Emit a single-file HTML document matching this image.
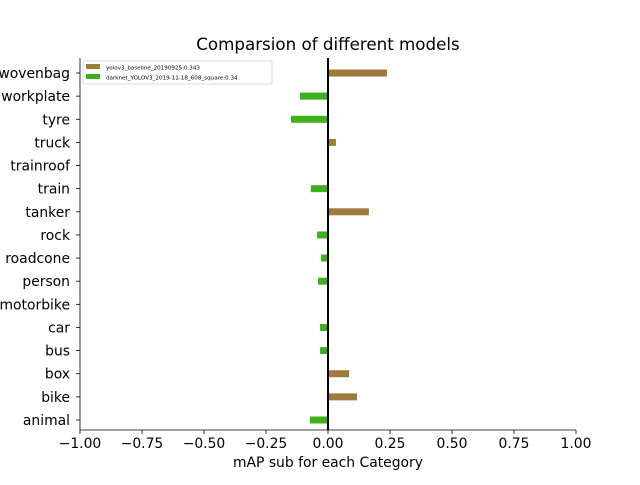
<!DOCTYPE html>
<html><head><meta charset="utf-8"><style>
body{margin:0;background:#fff}
svg text{font-family:"DejaVu Sans","Liberation Sans",sans-serif}
</style></head><body>
<svg id="c" width="640" height="480" xmlns="http://www.w3.org/2000/svg"></svg>
<script>
const categories=["animal","bike","box","bus","car","motorbike","person","roadcone","rock","tanker","train","trainroof","truck","tyre","workplate","wovenbag"];
const values=[-0.073,0.117,0.085,-0.032,-0.032,0,-0.04,-0.028,-0.044,0.165,-0.069,0,0.032,-0.149,-0.113,0.238];
const xTicks=[-1,-0.75,-0.5,-0.25,0,0.25,0.5,0.75,1];
const xTickLabels=["\u22121.00","\u22120.75","\u22120.50","\u22120.25","0.00","0.25","0.50","0.75","1.00"];
const NS="http://www.w3.org/2000/svg";
const svg=document.getElementById('c');
const X=v=>328+v*248;
const Y=i=>420-i*23.133;
function mk(t,a,p){const e=document.createElementNS(NS,t);for(const k in a)e.setAttribute(k,a[k]);(p||svg).appendChild(e);return e;}
values.forEach((v,i)=>{
  const x0=Math.min(X(0),X(v)),w=Math.abs(X(v)-X(0));
  const r=mk('rect',{x:x0,y:Y(i)-3.5,width:w,height:7,fill:v>=0?'#a0793d':'#3db11a'});
  
  
  mk('line',{x1:76,x2:80,y1:Y(i),y2:Y(i),stroke:'#000','stroke-width':0.8});
  const tl=mk('text',{x:70,y:Y(i)+5,'text-anchor':'end','font-size':13.9});
  tl.textContent=categories[i];
  
  
});
xTicks.forEach((v,i)=>{
  mk('line',{x1:X(v),x2:X(v),y1:430,y2:434,stroke:'#000','stroke-width':0.8});
  const t=mk('text',{x:X(v),y:448,'text-anchor':'middle','font-size':13.9});
  t.textContent=xTickLabels[i];
  
  
});
const zl=mk('line',{x1:X(0),x2:X(0),y1:58,y2:430,stroke:'#000','stroke-width':2});


const la=mk('line',{x1:80,x2:80,y1:58,y2:430,stroke:'#000','stroke-width':0.8});


const ba=mk('line',{x1:80,x2:576,y1:430,y2:430,stroke:'#000','stroke-width':0.8});


const ti=mk('text',{x:328,y:50,'text-anchor':'middle','font-size':16.7});
ti.textContent='Comparsion of different models';


const xt=mk('text',{x:328,y:467,'text-anchor':'middle','font-size':13.9});
xt.textContent='mAP sub for each Category';


const lg=mk('g',{});


mk('rect',{x:83,y:61,width:189,height:23,rx:2,fill:'#fff',stroke:'#ccc','stroke-width':0.8},lg);
mk('rect',{x:86,y:64,width:14,height:5,fill:'#a0793d'},lg);
mk('rect',{x:86,y:74,width:14,height:5,fill:'#3db11a'},lg);
const l1=mk('text',{x:106,y:69.5,'font-size':5.6},lg);l1.textContent='yolov3_baseline_20190925:0.343';


const l2=mk('text',{x:106,y:79.5,'font-size':5.6},lg);l2.textContent='darknet_YOLOV3_2019-11-18_608_square:0.34';


</script>
</body></html>
